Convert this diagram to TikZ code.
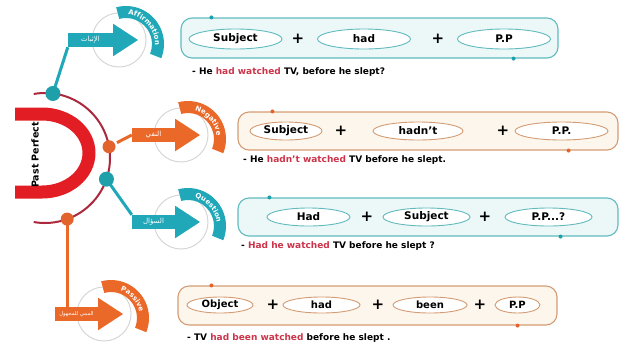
\documentclass[tikz,border=0pt]{standalone}
\usepackage{fontspec}
\setmainfont{DejaVu Sans}
\newfontfamily\arabicfont[Script=Arabic]{DejaVu Sans}
\TeXXeTstate=1
\usetikzlibrary{calc,shapes.geometric,decorations.text}

\definecolor{tealarrow}{RGB}{32,168,184}
\definecolor{tealline}{RGB}{96,186,190}
\definecolor{tealfill}{RGB}{236,248,248}
\definecolor{tealdot}{RGB}{30,160,170}
\definecolor{orarrow}{RGB}{234,104,40}
\definecolor{orline}{RGB}{212,156,116}
\definecolor{orfill}{RGB}{253,246,236}
\definecolor{ordot}{RGB}{226,100,44}
\definecolor{bigred}{RGB}{226,30,36}
\definecolor{ringred}{RGB}{172,40,60}
\definecolor{ghost}{RGB}{214,214,214}
\definecolor{hl}{RGB}{204,52,74}

% one category badge: grey ring, curved band with its English name,
% and an arrow whose shaft carries the Arabic name
% #1 shaft node name, #2/#3 tip x/y (y measured downwards), #4 shaft length,
% #5 colour, #6 Arabic label (set right to left), #7 English label, #8 Arabic font size
\newcommand\catbadge[8]{%
  \draw[ghost, line width=1pt] (#2-19,-#3) circle[radius=27];
  \fill[#5] ($(#2-12,-#3-4)+(105:38)$) arc[start angle=105, end angle=-22, radius=38]
     -- ($(#2-12,-#3-4)+(-22:26)$) arc[start angle=-22, end angle=105, radius=26] -- cycle;
  \path[decorate, decoration={text along path, text align=center,
     text={|\bfseries\fontsize{7}{7}\selectfont\color{white}|#7}}]
     ($(#2-12,-#3-4)+(104:29)$) arc[start angle=104, end angle=-21, radius=29];
  \node[shaft, fill=#5, minimum width=#4] (#1) at (#2-25-#4/2,-#3)
     {\arabicfont\fontsize{#8}{#8}\selectfont #6};
  \fill[#5] (#1.north east) -- ++(0,9) -- (#2,-#3) -- ($(#1.south east)+(0,-9)$) -- cycle;
}

\begin{document}
\begin{tikzpicture}[x=1pt, y=1pt,
  shaft/.style={rectangle, inner sep=0pt, minimum height=14pt, text=white},
  frame/.style={rectangle, rounded corners=11pt, line width=1.1pt, inner sep=0pt},
  tealframe/.style={frame, draw=tealline, fill=tealfill},
  orframe/.style={frame, draw=orline, fill=orfill},
  pill/.style={ellipse, fill=white, line width=0.9pt, inner sep=0pt,
     font=\bfseries\fontsize{10.5}{12}\selectfont},
  tealpill/.style={pill, draw=tealline},
  orpill/.style={pill, draw=orline},
  plus/.style={inner sep=0pt, font=\bfseries\fontsize{15}{15}\selectfont},
  example/.style={anchor=west, inner sep=0pt, font=\bfseries\fontsize{9}{10}\selectfont},
  bigdot/.style={circle, inner sep=0pt, minimum size=#1},
  tealconn/.style={tealarrow, line width=3pt},
  orconn/.style={orarrow, line width=3pt},
]
\useasboundingbox (0,0) rectangle (623,-349);

% ---- central hub: red half ring, thin outer ring, title
\draw[bigred, line width=13pt] (15,-114) -- (42,-114)
   arc[start angle=90, end angle=-90, x radius=47, y radius=39] -- (15,-192);
\draw[ringred, line width=2pt] ($(45,-158)+(100:65)$)
   arc[start angle=100, end angle=-100, radius=65];
\node[rotate=90, inner sep=0pt, font=\bfseries\fontsize{9.5}{10}\selectfont] (title)
   at (35,-155) {Past Perfect};

\coordinate (hub) at (45,-158);
\coordinate (pA) at ($(hub)+(83:65)$);
\coordinate (pN) at ($(hub)+(10:65)$);
\coordinate (pQ) at ($(hub)+(-19:65)$);
\coordinate (pP) at ($(hub)+(-70:65)$);

% ---- category badges
\catbadge{affShaft}{138}{40}{45}{tealarrow}{\beginR الإثبات\endR}{Affirmation}{7}
\catbadge{negShaft}{200}{135}{43}{orarrow}{\beginR النفي\endR}{Negative}{7}
\catbadge{qShaft}{200}{222}{43}{tealarrow}{\beginR السؤال\endR}{Question}{7}
\catbadge{pasShaft}{123}{314}{43}{orarrow}{\beginR المبني للمجهول\endR}{Passive}{5.3}

% ---- connectors from the ring to the badges
\draw[tealconn] (pA) -- (affShaft.south west);
\draw[orconn, shorten <=9pt] (pN) -- (negShaft.west);
\draw[tealconn] (pQ) -- (qShaft.north west);
\draw[orconn] (pP) -- (pP |- pasShaft.north);

\node[bigdot=15pt, fill=tealdot] (dA) at (pA) {};
\node[bigdot=13pt, fill=ordot] (dN) at (pN) {};
\node[bigdot=15pt, fill=tealdot] (dQ) at (pQ) {};
\node[bigdot=13pt, fill=ordot] (dP) at (pP) {};

% ---- formula boxes
\node[tealframe, minimum width=377, minimum height=40] (box1) at (369.5,-38) {};
\node[orframe, minimum width=380, minimum height=38] (box2) at (428,-131) {};
\node[tealframe, minimum width=380, minimum height=38] (box3) at (428,-217) {};
\node[orframe, minimum width=379, minimum height=39] (box4) at (367.5,-305.5) {};

\fill[tealdot] ($(box1.north west)+(31,0)$) circle[radius=2];
\fill[tealdot] ($(box1.south east)+(-45,0)$) circle[radius=2];
\fill[ordot] ($(box2.north west)+(35,0)$) circle[radius=2];
\fill[ordot] ($(box2.south east)+(-50,0)$) circle[radius=2];
\fill[tealdot] ($(box3.north west)+(32,0)$) circle[radius=2];
\fill[tealdot] ($(box3.south east)+(-58,0)$) circle[radius=2];
\fill[ordot] ($(box4.north west)+(34,0)$) circle[radius=2];
\fill[ordot] ($(box4.south east)+(-40,0)$) circle[radius=2];

% affirmative
\node[tealpill, minimum width=93, minimum height=20] (a1) at (235.5,-39) {Subject};
\node[plus] (ap1) at (298,-39) {+};
\node[tealpill, minimum width=93, minimum height=20] (a2) at (364,-39) {had};
\node[plus] (ap2) at (438,-39) {+};
\node[tealpill, minimum width=93, minimum height=20] (a3) at (504,-39) {P.P};
\node[example] (ex1) at (192,-72) {- He \textcolor{hl}{had watched} TV, before he slept?};

% negative
\node[orpill, minimum width=72, minimum height=18] (n1) at (286,-131) {Subject};
\node[plus] (np1) at (341,-131) {+};
\node[orpill, minimum width=90, minimum height=18] (n2) at (418,-131) {hadn't};
\node[plus] (np2) at (503,-131) {+};
\node[orpill, minimum width=93, minimum height=18] (n3) at (561.5,-131) {P.P.};
\node[example] (ex2) at (243,-160) {- He \textcolor{hl}{hadn't watched} TV before he slept.};

% question
\node[tealpill, minimum width=83, minimum height=18] (q1) at (308.5,-217) {Had};
\node[plus] (qp1) at (367,-217) {+};
\node[tealpill, minimum width=87, minimum height=18] (q2) at (426.5,-217) {Subject};
\node[plus] (qp2) at (485,-217) {+};
\node[tealpill, minimum width=87, minimum height=18] (q3) at (548.5,-217) {P.P...?};
\node[example] (ex3) at (241,-246) {- \textcolor{hl}{Had he watched} TV before he slept ?};

% passive
\node[orpill, minimum width=66, minimum height=16, font=\bfseries\fontsize{10}{12}\selectfont] (p1) at (220,-305) {Object};
\node[plus] (pp1) at (273,-305) {+};
\node[orpill, minimum width=77, minimum height=16, font=\bfseries\fontsize{10}{12}\selectfont] (p2) at (321.5,-305) {had};
\node[plus] (pp2) at (378,-305) {+};
\node[orpill, minimum width=74, minimum height=16, font=\bfseries\fontsize{10}{12}\selectfont] (p3) at (430,-305) {been};
\node[plus] (pp3) at (480,-305) {+};
\node[orpill, minimum width=45, minimum height=16, font=\bfseries\fontsize{10}{12}\selectfont] (p4) at (517.5,-305) {P.P};
\node[example] (ex4) at (187,-338) {- TV \textcolor{hl}{had been watched} before he slept .};
\end{tikzpicture}
\end{document}
